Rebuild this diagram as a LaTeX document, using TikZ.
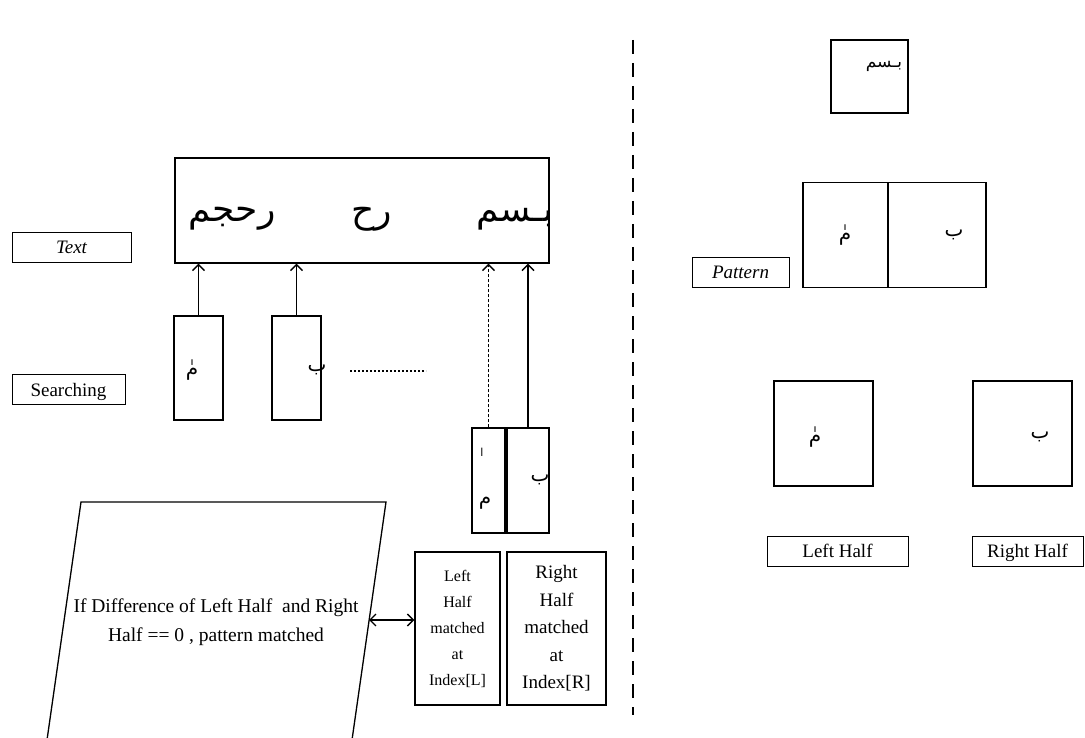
\documentclass[tikz,border=0pt]{standalone}
\usepackage{fontspec}
\setmainfont{Liberation Serif}
\newfontfamily\arabicfont[Script=Arabic]{DejaVu Sans}
\TeXXeTstate=1
\usetikzlibrary{arrows.meta}
\newcommand{\arab}[1]{{\arabicfont\beginR #1\endR}}

\begin{document}
\begin{tikzpicture}[x=1pt,y=-1pt,>={Straight Barb[length=6pt,width=12pt]},
  box/.style={draw,line width=1.3pt,inner sep=0pt},
  tag/.style={draw,line width=0.9pt,inner sep=0pt,minimum height=30pt,
    text height=15pt,text depth=2pt,font=\fontsize{19}{22}\selectfont},
  big/.style={inner sep=0pt,font=\fontsize{36}{40}\selectfont},
  let/.style={inner sep=0pt,font=\fontsize{20}{24}\selectfont},
  link/.style={line width=1.4pt}]
  \useasboundingbox (0,0) rectangle (1085,738);
  \clip (0,0) rectangle (1085,738);
  % text and searching windows
  \node[tag,minimum width=119pt] (tagtext) at (71.5,247.5) {\itshape Text};
  \node[tag,minimum width=113pt] (tagsearch) at (68.5,389.5) {Searching};
  \node[box,minimum width=374pt,minimum height=105pt] (txt) at (362,210.5) {};
  \node[big] (w1) at (515,219) {\arab{بـسم}};
  \node[big] (w2) at (372,219) {\arab{رح}};
  \node[big] (w3) at (232,219) {\arab{رحجم}};
  \node[box,minimum width=49pt,minimum height=104pt] (s1) at (198.5,368) {};
  \node[box,minimum width=49pt,minimum height=104pt] (s2) at (296.5,368) {};
  \node[let] (c1) at (192,370) {\arab{مٰ}};
  \node[let] (c2) at (317,370) {\arab{ب}};
  \draw[->,link] (s1.north) -- (s1.north |- txt.south);
  \draw[->,link] (s2.north) -- (s2.north |- txt.south);
  \draw[line width=1.6pt,dash pattern=on 2pt off 2pt] (350,371) -- (426,371);
  % split pattern under the text
  \node[box,minimum width=33pt,minimum height=105pt] (nl) at (488.5,480.5) {};
  \node[box,minimum width=42pt,minimum height=105pt] (nr) at (528,480.5) {};
  \node[inner sep=0pt,font=\fontsize{11}{12}\selectfont] (c3) at (482,452) {\arab{ا}};
  \node[let] (c4) at (485,503) {\arab{م}};
  \node[let] (c5) at (540,480) {\arab{ب}};
  \draw[->,link,dash pattern=on 3pt off 2pt] (nl.north) -- (nl.north |- txt.south);
  \draw[->,link] (nr.north) -- (nr.north |- txt.south);
  % matching
  \node[box,minimum width=85pt,minimum height=153pt,align=center,
    font=\fontsize{16}{26}\selectfont] (il) at (457.5,628.5) {Left\\Half\\matched\\at\\Index[L]};
  \node[box,minimum width=99pt,minimum height=153pt,align=center,
    font=\fontsize{19}{27.5}\selectfont] (ir) at (556.5,628.5) {Right\\Half\\matched\\at\\Index[R]};
  \draw[line width=1.3pt] (81,502) -- (386,502) -- (352,740) -- (47,740) -- cycle;
  \node[align=center,inner sep=0pt,font=\fontsize{19.5}{29}\selectfont] (cond) at (216,622)
    {If Difference of Left Half\ \ and Right\\Half == 0 , pattern matched};
  \coordinate (condR) at (369,620);
  \draw[<->,link] (condR) -- (il.west |- condR);
  % divider
  \draw[line width=1.3pt,dash pattern=on 14pt off 9pt] (633,40) -- (633,715);
  % pattern side
  \node[box,minimum width=77pt,minimum height=73pt] (pat) at (869.5,76.5) {};
  \node[inner sep=0pt,font=\fontsize{17}{20}\selectfont] (c6) at (884,66) {\arab{بـسم}};
  \node[box,minimum width=85pt,minimum height=105pt] (pl) at (845.5,235) {};
  \node[box,minimum width=98pt,minimum height=105pt] (pr) at (937,235) {};
  \node[let] (c7) at (845,235) {\arab{مٰ}};
  \node[let] (c8) at (954,235) {\arab{ب}};
  \node[tag,minimum width=97pt] (tagpat) at (740.5,272) {\itshape Pattern};
  \node[box,minimum width=99pt,minimum height=105pt] (hl) at (823.5,433.5) {};
  \node[box,minimum width=99pt,minimum height=105pt] (hr) at (1022.5,433.5) {};
  \node[let] (c9) at (815,437) {\arab{مٰ}};
  \node[let] (c10) at (1040,437) {\arab{ب}};
  \node[tag,minimum width=141pt] (tagleft) at (837.5,551) {Left Half};
  \node[tag,minimum width=111pt] (tagright) at (1027.5,551) {Right Half};
\end{tikzpicture}
\end{document}
